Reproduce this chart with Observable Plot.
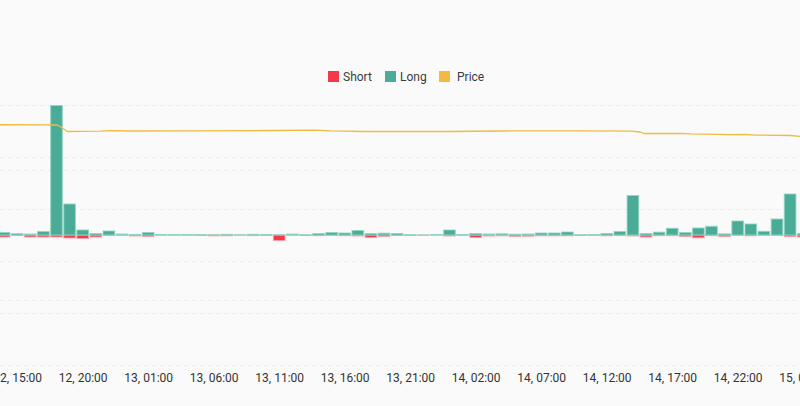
<!DOCTYPE html>
<html>
<head>
<meta charset="utf-8">
<script src="https://cdn.jsdelivr.net/npm/d3@7"></script>
<script src="https://cdn.jsdelivr.net/npm/@observablehq/plot@0.6"></script>
<style>
html,body{margin:0;padding:0;background:#fafafa;width:800px;height:406px;overflow:hidden}
#wrap{position:relative;width:800px;height:406px}
#legend{position:absolute;left:0;top:70px;width:800px;height:14px;font:12px/14px Roboto,sans-serif;color:#3c3c3c}
#legend i{position:absolute;top:1px;width:11px;height:11px;display:block}
#legend span{position:absolute;top:0}
svg{display:block}
svg text{font-family:Roboto,sans-serif;font-size:12px;fill:#333}
</style>
</head>
<body>
<div id="wrap"><div id="chart"></div>
<div id="legend">
<i style="left:328px;background:#f43a4a"></i><span style="left:343px">Short</span>
<i style="left:385px;background:#4aac96"></i><span style="left:400px">Long</span>
<i style="left:439px;background:#f2ba41"></i><span style="left:457px">Price</span>
</div></div>
<script>
// hours counted from 12th 00:00
const firstHour = 14;
const longValues = [2.5,1.3,1,3.5,129.5,31,5,1.5,4,1,.5,2.5,.5,.5,.5,.3,.2,.7,.2,.7,.5,.2,1,.3,1.5,2.5,2,4.5,1.5,1.8,1.5,.3,.1,.5,5,.5,1.5,1,1.2,.8,1,2,2,3,.3,.5,1.5,3.5,39.5,1.5,2.8,6.7,2.5,7,8.7,1.2,14,11,3.7,16,41,1.5];
const shortValues = [2,.5,2,2,2,3,3.5,2,.5,.3,1,1.5,.2,.2,.2,.5,.8,.8,.2,.6,.5,5.5,.2,.5,.7,.5,.7,1,2.5,1.5,.5,.5,.2,.1,1,.3,2.5,1,.8,1.4,1.2,.8,.8,.8,.5,.3,.8,.6,1,2,.7,.7,1.5,2.8,.7,1.5,.3,.8,.3,.4,1.6,2];
const priceH = [13,17,18,18.3,18.8,20,21.3,22.1,23.6,28,34.3,37.7,38.9,41.5,48,51.9,54.5,58,61.8,62.55,62.8,65.6,66.4,69.4,70.5,71.3,74,74.8,76];
const priceV = [110.8,110.6,110.5,108.5,104,104.1,104.3,104.8,104.5,104.6,105,105.4,104.6,104,104,104.5,104.7,104.6,104.4,103.5,102,102.2,101.7,100.8,101.2,100.4,100,99,98.5];
const tickHours = [15,20,25,30,35,40,45,50,55,60,65,70,75];
const tickLabels = ["12, 15:00","12, 20:00","13, 01:00","13, 06:00","13, 11:00","13, 16:00","13, 21:00","14, 02:00","14, 07:00","14, 12:00","14, 17:00","14, 22:00","15, 03:00"];
const leftGrid = [-130,-65,65,130];
const rightGrid = [-130,-78,-26,26,78,130];

const bars = longValues.map((v,i)=>({h:firstHour+i,long:v,short:-shortValues[i]}));
const price = priceH.map((h,i)=>({h,p:priceV[i]}));
const half = 0.445;
const barOpts = k => ({x1:d=>d.h-half,x2:d=>d.h+half,y1:0,y2:k});

const chart = Plot.plot({
  width:800,height:406,
  marginLeft:0,marginRight:0,marginTop:105,marginBottom:41,
  style:{background:"transparent"},
  x:{type:"linear",domain:[13.687,74.756],range:[0,800]},
  y:{axis:null,domain:[-130,130],range:[365,105]},
  marks:[
    Plot.ruleY(leftGrid,{stroke:"#eeeeee",strokeWidth:1,strokeDasharray:"5,3"}),
    Plot.ruleY(rightGrid,{stroke:"#eeeeee",strokeWidth:1,strokeDasharray:"5,3"}),
    Plot.rect(bars,{...barOpts("short"),fill:"#f43a4a",stroke:"#f9a3ab",strokeOpacity:.85,strokeWidth:1}),
    Plot.rect(bars,{...barOpts("long"),fill:"#4aac96",stroke:"#8fd6c6",strokeOpacity:.85,strokeWidth:1}),
    Plot.line(price,{x:"h",y:"p",stroke:"#f2ba41",strokeWidth:1.3}),
    Plot.axisX({ticks:tickHours,tickSize:0,tickPadding:8,tickFormat:h=>tickLabels[tickHours.indexOf(h)],label:null,anchor:"bottom"})
  ]
});
document.getElementById("chart").appendChild(chart);
</script>
</body>
</html>
